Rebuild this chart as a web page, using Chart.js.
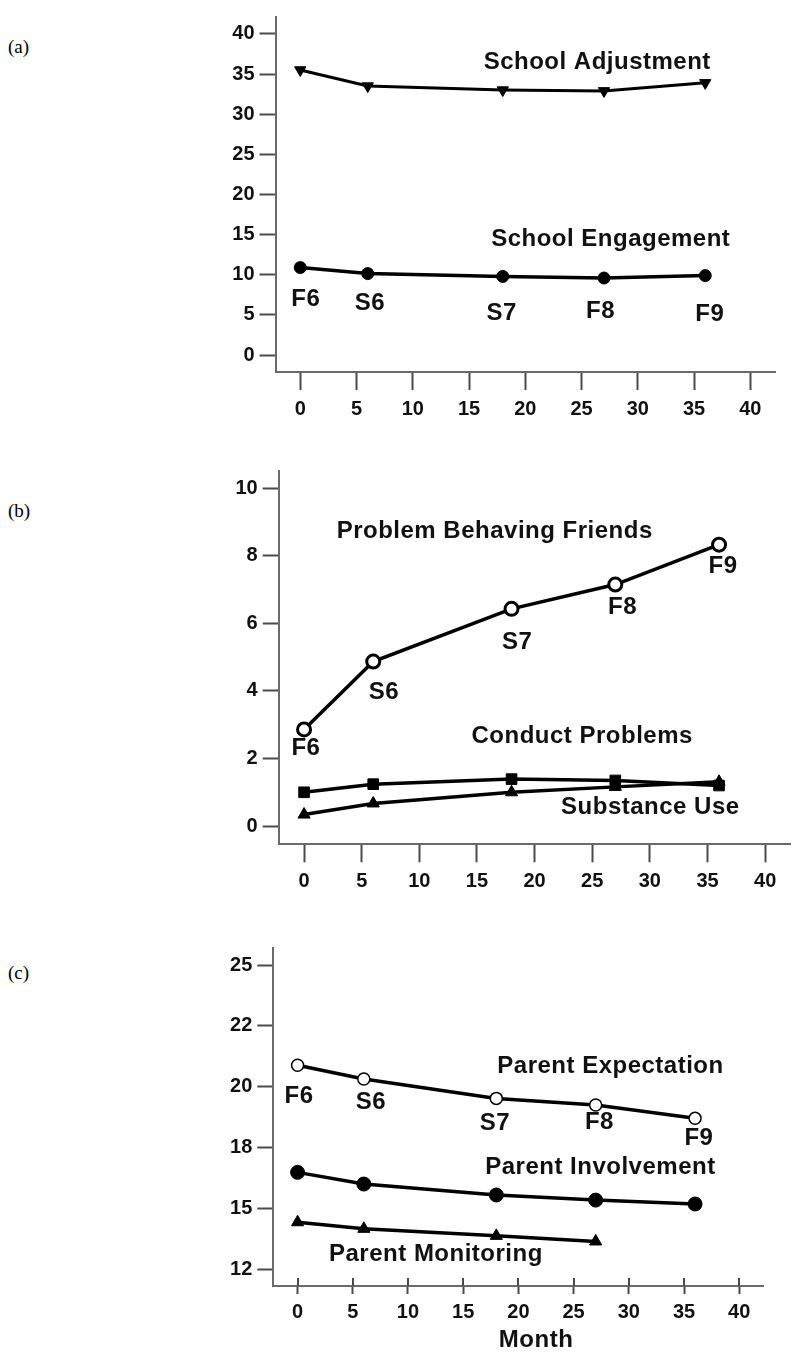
<!DOCTYPE html>
<html>
<head>
<meta charset="utf-8">
<script src="https://cdn.jsdelivr.net/npm/chart.js@4.4.1/dist/chart.umd.min.js"></script>
<style>
html,body{margin:0;padding:0;background:#fff;width:800px;height:1357px;overflow:hidden;position:relative}
.panel{position:absolute;left:0;width:800px}
.lab{position:absolute;left:8px;font-family:'Liberation Serif','Times New Roman',serif;font-size:19px;line-height:22px;color:#000}
</style>
</head>
<body>
<div class="lab" style="top:36px">(a)</div>
<div class="lab" style="top:500px">(b)</div>
<div class="lab" style="top:962px">(c)</div>
<div class="panel" style="top:0px;height:440px"><canvas id="ca" width="800" height="440"></canvas></div>
<div class="panel" style="top:440px;height:470px"><canvas id="cb" width="800" height="470"></canvas></div>
<div class="panel" style="top:910px;height:447px"><canvas id="cc" width="800" height="447"></canvas></div>
<script>
// ---------------- data ----------------
const months = [0, 6, 18, 27, 36];
const waveLabels = ['F6', 'S6', 'S7', 'F8', 'F9'];

const schoolAdjustment = [35.5, 33.5, 33.0, 32.9, 33.9];
const schoolEngagement = [10.9, 10.15, 9.8, 9.6, 9.9];

const problemFriends = [2.86, 4.87, 6.43, 7.15, 8.33];
const conductProblems = [1.0, 1.24, 1.39, 1.35, 1.2];
const substanceUse = [0.34, 0.67, 1.0, 1.16, 1.31];

const parentExpectation = [20.88, 20.32, 19.52, 19.25, 18.70];
const parentInvolvement = [16.48, 16.0, 15.55, 15.34, 15.18];
const parentMonitoring = [14.43, 14.16, 13.87, 13.64, null];

const xTicks = [0, 5, 10, 15, 20, 25, 30, 35, 40];
const yTicksA = [0, 5, 10, 15, 20, 25, 30, 35, 40];
const yTicksB = [0, 2, 4, 6, 8, 10];
const yTicksC = [12.5, 15, 17.5, 20, 22.5, 25];
const yTickLabelsC = ['12', '15', '18', '20', '22', '25'];

// ---------------- helpers ----------------
const FONT = '"Liberation Sans", Arial, sans-serif';
const AXIS_GREY = '#6a6a6a';
const TICK_GREY = '#4a4a4a';

function series(values, style) {
  const pts = [];
  values.forEach((v, i) => { if (v !== null) pts.push({x: months[i], y: v}); });
  return Object.assign({
    data: pts, borderColor: '#000', borderWidth: 3.5, tension: 0, fill: false,
    pointBorderColor: '#000', pointBackgroundColor: '#000', pointBorderWidth: 1
  }, style);
}

const annotPlugin = {
  id: 'annot',
  afterDatasetsDraw(chart, args, opts) {
    if (!opts || !opts.items) return;
    const {ctx, scales: {x, y}, chartArea} = chart;
    ctx.save();
    ctx.font = 'bold 24px ' + FONT;
    try { ctx.letterSpacing = '0.5px'; } catch (e) {}
    ctx.fillStyle = '#111';
    ctx.textAlign = 'center';
    ctx.textBaseline = 'middle';
    for (const a of opts.items) {
      const px = x.getPixelForValue(a.x);
      const py = (a.below !== undefined) ? chartArea.bottom + a.below : y.getPixelForValue(a.y);
      ctx.fillText(a.text, px, py);
    }
    ctx.restore();
  }
};

const crossTickPlugin = {
  id: 'crossTicks',
  afterDraw(chart, args, opts) {
    if (!opts || !opts.len) return;
    const {ctx, scales: {x}, chartArea} = chart;
    ctx.save();
    ctx.strokeStyle = TICK_GREY;
    ctx.lineWidth = 2;
    x.ticks.forEach(t => {
      const px = Math.round(x.getPixelForValue(t.value));
      ctx.beginPath();
      ctx.moveTo(px, chartArea.bottom - opts.len);
      ctx.lineTo(px, chartArea.bottom);
      ctx.stroke();
    });
    ctx.restore();
  }
};

function makeChart(id, cfg) {
  const yLabels = cfg.yLabels;
  return new Chart(document.getElementById(id), {
    type: 'line',
    data: {datasets: cfg.datasets},
    plugins: [annotPlugin, crossTickPlugin],
    options: {
      responsive: false, animation: false, events: [],
      layout: {padding: {top: cfg.padTop, right: cfg.padRight, left: 0, bottom: 0}},
      plugins: {
        legend: {display: false}, tooltip: {enabled: false},
        annot: {items: cfg.annotations},
        crossTicks: {len: cfg.crossLen || 0}
      },
      scales: {
        x: {
          type: 'linear', min: -2.2, max: 42.2,
          afterBuildTicks: s => { s.ticks = xTicks.map(v => ({value: v})); },
          afterFit: s => { s.height = cfg.xAxisHeight; },
          grid: {display: true, drawOnChartArea: false, drawTicks: true, tickLength: cfg.xTickLen,
                 tickWidth: 2, tickColor: TICK_GREY, color: TICK_GREY},
          border: {display: true, color: AXIS_GREY, width: 2},
          ticks: {font: {family: FONT, size: 20, weight: 'bold'}, color: '#111', padding: cfg.xPad,
                  maxRotation: 0, autoSkip: false, callback: v => String(v)}
        },
        y: {
          type: 'linear', min: cfg.yMin, max: cfg.yMax,
          afterBuildTicks: s => { s.ticks = cfg.yTicks.map(v => ({value: v})); },
          afterFit: s => { s.width = cfg.yAxisWidth; },
          grid: {display: true, drawOnChartArea: false, drawTicks: true, tickLength: 16,
                 tickWidth: 2, tickColor: TICK_GREY, color: TICK_GREY},
          border: {display: true, color: AXIS_GREY, width: 2},
          ticks: {font: {family: FONT, size: 20, weight: 'bold'}, color: '#111', padding: 5, autoSkip: false,
                  callback: (v) => yLabels ? yLabels[cfg.yTicks.indexOf(v)] : String(v)}
        }
      }
    }
  });
}

function waveAnn(pos) {
  return waveLabels.map((t, i) => ({text: t, x: pos[i][0], y: pos[i][1]}));
}

// ---------------- panel (a) ----------------
makeChart('ca', {
  datasets: [
    series(schoolAdjustment, {pointStyle: 'triangle', rotation: 180, pointRadius: 6.5, borderWidth: 3}),
    series(schoolEngagement, {pointStyle: 'circle', pointRadius: 6})
  ],
  yMin: -2.1, yMax: 42.1, yTicks: yTicksA,
  padTop: 7, padRight: 25, yAxisWidth: 275.5, xAxisHeight: 68, xTickLen: 18, xPad: 7,
  annotations: [
    {text: 'School Adjustment', x: 26.4, y: 36.4},
    {text: 'School Engagement', x: 27.6, y: 14.37}
  ].concat(waveAnn([[0.5, 6.99], [6.2, 6.5], [17.9, 5.17], [26.7, 5.41], [36.4, 5.05]]))
});

// ---------------- panel (b) ----------------
makeChart('cb', {
  datasets: [
    series(problemFriends, {pointStyle: 'circle', pointRadius: 6.5, pointBackgroundColor: '#fff', pointBorderWidth: 3}),
    series(conductProblems, {pointStyle: 'rect', pointRadius: 7.5}),
    series(substanceUse, {pointStyle: 'triangle', pointRadius: 7})
  ],
  yMin: -0.54, yMax: 10.52, yTicks: yTicksB,
  padTop: 30.7, padRight: 6.5, yAxisWidth: 278.7, xAxisHeight: 65.7, xTickLen: 18, xPad: 7,
  annotations: [
    {text: 'Problem Behaving Friends', x: 16.54, y: 8.71},
    {text: 'Conduct Problems', x: 24.13, y: 2.66},
    {text: 'Substance Use', x: 30.04, y: 0.56}
  ].concat(waveAnn([[0.16, 2.29], [6.93, 3.97], [18.48, 5.43], [27.63, 6.46], [36.35, 7.68]]))
});

// ---------------- panel (c) ----------------
makeChart('cc', {
  datasets: [
    series(parentExpectation, {pointStyle: 'circle', pointRadius: 6, pointBackgroundColor: '#fff', pointBorderWidth: 1.5}),
    series(parentInvolvement, {pointStyle: 'circle', pointRadius: 7}),
    series(parentMonitoring, {pointStyle: 'triangle', pointRadius: 7})
  ],
  yMin: 11.81, yMax: 25.7, yTicks: yTicksC, yLabels: yTickLabelsC,
  padTop: 38, padRight: 36.5, yAxisWidth: 273.3, xAxisHeight: 71, xTickLen: 8, xPad: 6, crossLen: 8,
  annotations: [
    {text: 'Parent Expectation', x: 28.34, y: 20.82},
    {text: 'Parent Involvement', x: 27.43, y: 16.7},
    {text: 'Parent Monitoring', x: 12.53, y: 13.13},
    {text: 'Month', x: 21.6, below: 54}
  ].concat(waveAnn([[0.13, 19.62], [6.65, 19.37], [17.88, 18.51], [27.34, 18.53], [36.35, 17.87]]))
});
</script>
</body>
</html>
